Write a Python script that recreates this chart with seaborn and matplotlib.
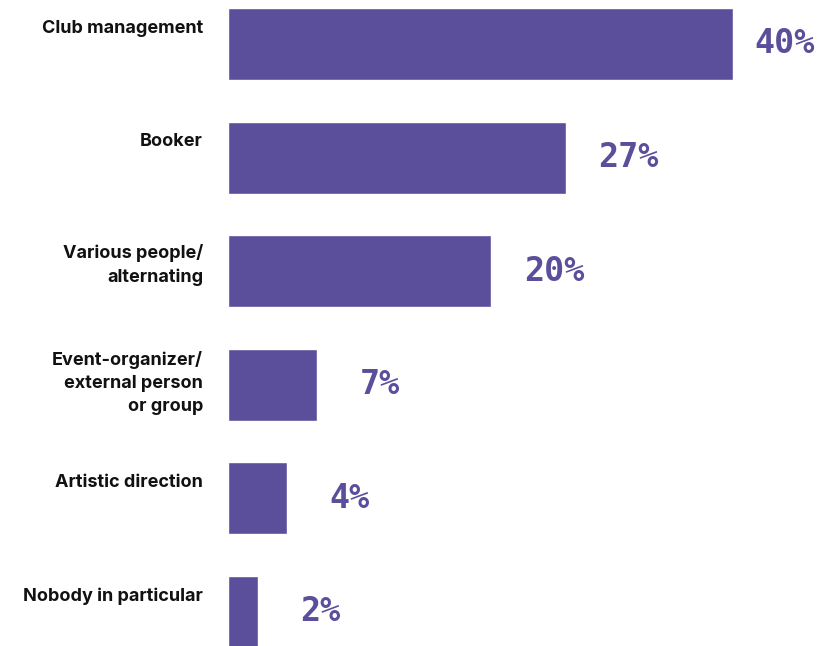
import seaborn as sns
import matplotlib.pyplot as plt
import pandas as pd

categories = ['Club management', 'Booker', 'Various people/\nalternating',
              'Event-organizer/\nexternal person\nor group', 'Artistic direction',
              'Nobody in particular']
shares = [40.1, 26.8, 20.9, 7.06, 4.7, 2.4]
share_labels = ['40%', '27%', '20%', '7%', '4%', '2%']

df = pd.DataFrame({'who': categories, 'share': shares})

purple = '#5b4f9c'
sns.set_theme(style='white')
plt.rcParams['font.family'] = ['Inter', 'DejaVu Sans']

fig = plt.figure(figsize=(8.21, 6.46), dpi=100)
ax = fig.add_axes([228 / 821, 0, 593 / 821, 1])
sns.barplot(data=df, x='share', y='who', color=purple, saturation=1,
            width=0.634, ax=ax, orient='h')

ax.set_xlim(0, 593 / 12.6)
ax.set_ylim(5.30, -0.387)
ax.set_xlabel('')
ax.set_ylabel('')
ax.set_xticks([])
ax.set_yticks([])
sns.despine(ax=ax, left=True, bottom=True)

# vertical nudge of the category text below the bar top, by number of lines
drop = {1: -8.5, 2: -6.5, 3: -1.5}

for i, (cat, val, lab) in enumerate(zip(categories, shares, share_labels)):
    ax.annotate(cat, xy=(0, i - 0.317), xycoords='data',
                xytext=(-18, drop[cat.count('\n') + 1]), textcoords='offset points',
                ha='right', va='top', fontsize=13, fontweight='bold',
                color='#111111', linespacing=1.45, annotation_clip=False)
    off = 45 if i > 0 else 37
    ax.annotate(lab, xy=(val, i), xytext=(off, 0), textcoords='offset points',
                ha='center', va='center', fontsize=24, fontweight='bold',
                family='DejaVu Sans Mono', color=purple, annotation_clip=False)

fig.savefig('out.png', dpi=100)
